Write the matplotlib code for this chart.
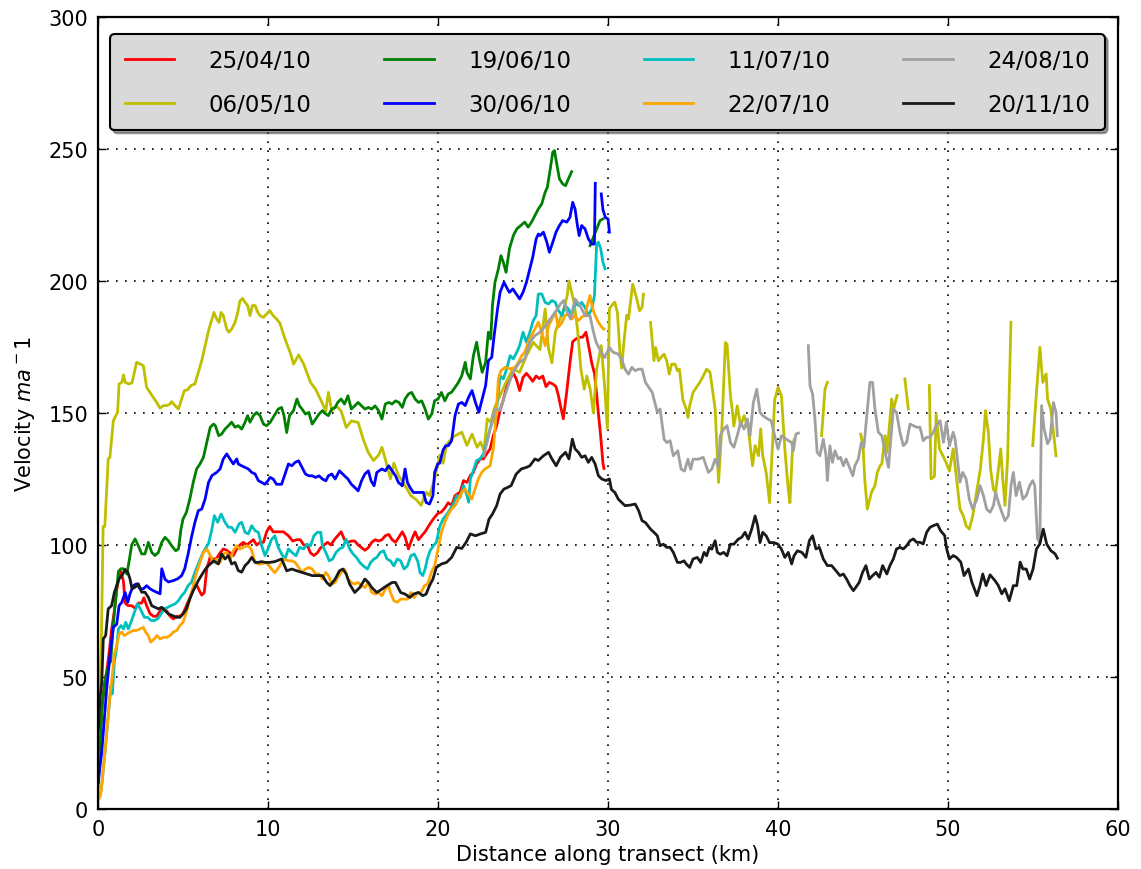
import numpy as np
import matplotlib
matplotlib.use("Agg")
import matplotlib.pyplot as plt

nan = float("nan")
gap = (nan, nan)

# (distance km, velocity) samples, nan = data gap
red_25_04 = [
    (0.02, 15), (0.12, 28), (0.22, 37), (0.37, 47), (0.51, 52), (0.65, 59), (0.8, 68), (0.96, 75),
    (1.1, 83), (1.24, 88), (1.35, 90), (1.5, 86), (1.59, 78), (1.78, 77), (1.98, 77), (2.18, 76),
    (2.37, 78), (2.57, 78), (2.7, 80), (2.86, 77), (3.06, 74), (3.25, 73), (3.45, 73), (3.65, 75),
    (3.84, 76), (4.04, 75), (4.24, 73), (4.43, 72), (4.63, 73), (4.82, 73), (5.0, 74), (5.2, 77),
    (5.4, 80), (5.6, 83), (5.8, 85), (5.94, 83), (6.1, 81), (6.25, 82), (6.4, 91), (6.6, 95.5),
    (6.8, 94.5), (6.98, 95), (7.18, 97), (7.37, 98.5), (7.57, 98), (7.76, 97), (7.96, 96), (8.16, 98.5),
    (8.35, 100), (8.55, 101), (8.75, 100), (8.94, 101), (9.14, 102), (9.33, 100), (9.53, 101), (9.73, 101),
    (9.92, 105), (10.1, 107), (10.3, 105), (10.6, 105), (10.9, 105), (11.2, 103.5), (11.45, 101.5), (11.7, 102),
    (11.9, 102), (12.1, 100), (12.3, 100), (12.5, 97), (12.7, 96), (12.9, 97), (13.1, 99), (13.3, 100),
    (13.5, 101), (13.7, 100), (13.9, 102), (14.1, 103.5), (14.3, 105), (14.5, 102), (14.7, 101), (14.9, 101.5),
    (15.1, 101.5), (15.3, 100), (15.5, 99), (15.7, 98), (15.9, 99), (16.1, 101), (16.3, 102), (16.5, 101.5),
    (16.7, 102), (16.9, 103.5), (17.1, 104), (17.3, 102), (17.5, 101), (17.7, 103), (17.9, 105), (18.06, 103),
    (18.26, 98.5), (18.45, 102), (18.65, 105), (18.85, 102), (19.04, 103.5), (19.24, 105), (19.43, 107), (19.63, 109),
    (19.8, 110.5), (20.0, 112), (20.2, 112.5), (20.4, 114), (20.6, 116), (20.8, 115), (21.0, 118.7), (21.3, 120),
    (21.5, 124.4), (21.7, 123.7), (21.9, 126.3), (22.08, 127.5), (22.27, 130.7), (22.47, 132.6), (22.67, 132.6), (22.86, 134.5),
    (23.06, 136.4), (23.25, 141.4), (23.45, 145.2), (23.65, 151), (23.84, 155), (24.04, 160), (24.24, 163), (24.43, 165),
    (24.6, 163), (24.8, 158.5), (25.0, 163.5), (25.2, 165), (25.4, 163.5), (25.57, 162), (25.77, 164), (25.96, 163),
    (26.16, 164), (26.35, 160), (26.55, 161.6), (26.75, 161), (26.94, 160), (27.08, 156.6), (27.2, 152.8), (27.37, 147.8),
    (27.57, 158), (27.76, 169), (27.92, 177), (28.1, 178), (28.3, 178.7), (28.5, 178.7), (28.7, 180.6), (28.9, 174),
    (29.04, 169), (29.2, 165), (29.3, 159), (29.43, 150), (29.57, 141), (29.7, 131), (29.76, 129),
]

yellow_06_05 = [
    (0.0, 15), (0.1, 45), (0.2, 65), (0.3, 107), (0.4, 107), (0.5, 120), (0.6, 132.6), (0.7, 133.2),
    (0.9, 147), (1.0, 148.4), (1.15, 150.2), (1.24, 161), (1.4, 161.6), (1.5, 164.4), (1.6, 161.6), (1.8, 161),
    (2.0, 161.4), (2.14, 165.4), (2.27, 169.2), (2.47, 168.6), (2.67, 167.9), (2.86, 159.7), (3.06, 157.8), (3.25, 155.9),
    (3.45, 154), (3.65, 151.8), (3.84, 152.8), (4.04, 152.8), (4.24, 153.4), (4.33, 154.3), (4.53, 152.8), (4.73, 151.5),
    (4.92, 155.3), (5.08, 158.5), (5.27, 158.8), (5.47, 160.4), (5.7, 161), (5.9, 165.4), (6.1, 169.8), (6.3, 175.5),
    (6.5, 181.2), (6.7, 185.6), (6.82, 188.1), (6.98, 185.6), (7.12, 184.3), (7.24, 188.1), (7.37, 186.9), (7.57, 181.8),
    (7.7, 180.6), (7.86, 181.8), (8.06, 184.3), (8.22, 188.1), (8.35, 192.5), (8.5, 193.4), (8.65, 191.9), (8.8, 190.7),
    (8.94, 186.9), (9.08, 190.7), (9.24, 190.7), (9.4, 188.1), (9.53, 186.9), (9.73, 186.2), (9.92, 187.5), (10.1, 188.8),
    (10.3, 186.9), (10.5, 185.6), (10.7, 184), (10.85, 181), (11.0, 178), (11.3, 173), (11.5, 168.5), (11.8, 172),
    (12.1, 168.5), (12.3, 165), (12.5, 161.6), (12.8, 159), (13.1, 155), (13.4, 150.8), (13.55, 157.8), (13.75, 150.8),
    (14.0, 152.7), (14.3, 150.8), (14.6, 144.5), (14.9, 147), (15.3, 146.4), (15.6, 140), (15.9, 135), (16.2, 132),
    (16.5, 134), (16.7, 137), (16.9, 132.5), (17.2, 125), (17.4, 131), (17.7, 126), (17.96, 123.7), (18.4, 118.7),
    (18.75, 117), (19.0, 115), (19.3, 120), (19.5, 118.7), (19.8, 125), (20.1, 134), (20.3, 131), (20.5, 138),
    (20.9, 141), (21.4, 142.7), (21.7, 137.7), (22.0, 142), (22.3, 137), (22.5, 139), (22.7, 135.8), (22.9, 147.8),
    (23.1, 146.5), (23.3, 151.5), (23.6, 156), (24.0, 161.6), (24.4, 166.7), (24.8, 165.4), (25.2, 171.7), (25.6, 176.8),
    (26.0, 174), (26.3, 189.4), (26.5, 174.3), (26.7, 169), (26.9, 180.6), (27.1, 184.4), (27.4, 189.4), (27.6, 194.5),
    (27.7, 200), (28.0, 192), (28.2, 182), (28.4, 166.7), (28.6, 159), (28.75, 164), (28.95, 159), (29.14, 150),
    (29.33, 166.6), (29.6, 175.5), (29.8, 160), (29.96, 144), (30.08, 189.4), (30.2, 190.6), (30.4, 192), (30.55, 188),
    (30.7, 173), (30.8, 167), (30.95, 178), (31.1, 187), (31.2, 185.6), (31.45, 198.8), (31.7, 193), (31.85, 188.7),
    (32.0, 190), (32.08, 195), gap,
    (32.5, 184.3), (32.7, 169.8), (32.8, 174.8), (32.96, 169.8), (33.2, 171.7), (33.3, 172.3), (33.45, 169.8), (33.6, 164.7),
    (33.74, 168.5), (33.94, 168.5), (34.08, 166), (34.2, 166.6), (34.4, 155), (34.6, 151.5), (34.7, 148.3), (34.8, 152.7),
    (35.0, 157.8), (35.2, 159.7), (35.4, 161.6), (35.6, 164), (35.8, 166.6), (36.0, 165.4), (36.3, 151.5), (36.5, 123.7),
    (36.7, 145), (36.9, 176.7), (37.0, 176), (37.2, 156.5), (37.3, 151.5), (37.4, 145), (37.6, 152.7), (37.8, 145),
    (38.0, 149), (38.25, 144), (38.5, 130), (38.65, 137.6), (38.85, 133.8), (38.98, 144), (39.1, 133.8), (39.3, 127.5),
    (39.5, 116), (39.7, 141.4), (39.8, 155), (40.0, 159.7), (40.2, 156.5), (40.4, 136.3), (40.6, 121), (40.7, 116),
    (40.86, 138), (40.95, 140), gap,
    (42.56, 141.4), (42.76, 159), (42.9, 161.6), gap,
    (44.86, 142), (45.0, 137.6), (45.1, 125), (45.25, 113.6), (45.4, 117.4), (45.5, 120), (45.7, 122.5), (45.84, 127.5),
    (46.0, 130), (46.1, 130.7), (46.3, 141.4), (46.4, 135), (46.5, 141.4), (46.68, 155.3), (46.8, 151.5), (47.0, 156.6),
    gap, (47.46, 162.9), (47.66, 151.5), gap,
    (48.9, 160.4), (49.0, 125), (49.2, 126), (49.3, 149.6), (49.5, 136.3), (49.7, 133.8), (49.9, 131), (50.08, 128),
    (50.3, 136.4), (50.5, 125), (50.7, 113.7), (50.9, 111), (51.06, 107.3), (51.25, 106), (51.45, 111), (51.7, 121),
    (51.9, 128.8), (52.08, 140), (52.2, 150.9), (52.37, 142.7), (52.5, 128.8), (52.67, 121), (52.8, 120), (52.96, 128.8),
    (53.1, 136.4), (53.2, 126.3), (53.35, 115), (53.5, 132.6), (53.7, 184.4), gap,
    (54.98, 137.6), (55.2, 157.8), (55.4, 174.9), (55.57, 161.6), (55.77, 164.8), (55.85, 155.3), (56.04, 151.5), (56.2, 142.7),
    (56.35, 133.8),
]

green_19_06 = [
    (0.0, 8), (0.1, 22), (0.25, 40), (0.45, 50), (0.6, 54), (0.75, 56), (0.9, 70), (1.05, 80),
    (1.2, 90), (1.35, 91), (1.5, 91), (1.7, 89), (1.85, 94.7), (1.98, 100), (2.18, 102.3), (2.37, 99.7),
    (2.57, 96.6), (2.76, 96.6), (2.96, 101), (3.16, 97.2), (3.35, 96), (3.55, 97.2), (3.75, 101), (3.94, 102.9),
    (4.14, 101.6), (4.33, 99.7), (4.57, 97.8), (4.73, 98.5), (4.88, 106), (5.0, 109.8), (5.2, 112.4), (5.4, 117.4),
    (5.6, 123.7), (5.8, 128.8), (6.0, 130.7), (6.2, 133.2), (6.4, 138.9), (6.6, 144.6), (6.8, 145.8), (6.9, 145.2),
    (7.1, 141.4), (7.27, 142), (7.47, 143.9), (7.67, 145.2), (7.86, 146.5), (8.06, 144.6), (8.25, 145.2), (8.45, 143.9),
    (8.65, 146.5), (8.8, 149), (8.94, 146.5), (9.14, 149), (9.33, 150.2), (9.53, 149), (9.73, 145.8), (9.92, 145.2),
    (10.12, 146.4), (10.3, 148.3), (10.6, 151.5), (10.8, 152.1), (10.94, 149), (11.1, 142.6), (11.26, 149), (11.5, 150.9),
    (11.7, 155.3), (11.85, 152.7), (12.0, 151.5), (12.2, 149.6), (12.4, 150.2), (12.6, 145.8), (12.8, 147.7), (13.0, 149.6),
    (13.2, 150.9), (13.4, 149.6), (13.55, 149), (13.75, 151.5), (13.95, 152.1), (14.1, 154), (14.3, 155.3), (14.5, 153.4),
    (14.7, 156.5), (14.9, 151.5), (15.1, 152.7), (15.3, 154), (15.5, 152.7), (15.7, 151.5), (15.9, 152.1), (16.1, 151.5),
    (16.3, 152.7), (16.5, 150.9), (16.7, 147.7), (16.9, 153.4), (17.1, 154), (17.3, 153.4), (17.5, 154.6), (17.7, 154),
    (17.9, 152.1), (18.06, 155.3), (18.26, 157.2), (18.45, 157.8), (18.65, 155.3), (18.85, 154), (19.04, 154.6), (19.24, 151.5),
    (19.43, 147.7), (19.63, 149.6), (19.8, 154.6), (20.0, 155.3), (20.2, 157.8), (20.4, 154.6), (20.6, 157.2), (20.8, 157.9),
    (21.0, 159.7), (21.2, 161.6), (21.4, 164.2), (21.6, 169.2), (21.7, 165.4), (21.9, 162.9), (22.08, 171.7), (22.27, 176.8),
    (22.43, 170.5), (22.6, 165.4), (22.8, 169.2), (22.96, 180.6), (23.1, 178), (23.2, 190.7), (23.35, 199.5), (23.55, 204.6),
    (23.7, 209.6), (23.84, 207.1), (24.0, 203.3), (24.2, 212.2), (24.43, 217.2), (24.63, 219.7), (24.86, 221), (25.1, 222.3),
    (25.3, 220.4), (25.5, 222.3), (25.7, 224.8), (25.9, 227.3), (26.1, 229.2), (26.3, 233.6), (26.43, 235.5), (26.6, 242.4),
    (26.75, 248.8), (26.85, 249.4), (27.0, 243.7), (27.14, 238.7), (27.33, 236.8), (27.5, 236.1), (27.67, 238.7), (27.86, 241.4),
    gap, (28.94, 213.4), (29.1, 216), (29.33, 219.7), (29.53, 222.9), (29.7, 223.5),
]

blue_30_06 = [
    (0.02, 10), (0.12, 16.4), (0.22, 21.5), (0.37, 34), (0.51, 45.5), (0.7, 58), (0.9, 68.8), (1.1, 70),
    (1.24, 77), (1.4, 78.3), (1.6, 82), (1.75, 78.3), (1.88, 81.5), (2.08, 84.6), (2.27, 85.3), (2.47, 83.4),
    (2.67, 83.4), (2.86, 84.6), (3.06, 83.4), (3.25, 82.7), (3.45, 82.1), (3.65, 81.5), (3.75, 91), (3.94, 87),
    (4.14, 86), (4.43, 86.5), (4.69, 87.2), (4.92, 88.4), (5.1, 91), (5.3, 96.6), (5.5, 103), (5.7, 108.6),
    (5.9, 113), (6.1, 113.6), (6.3, 117.4), (6.5, 123.7), (6.7, 126.3), (6.98, 127.5), (7.18, 128.8), (7.37, 132.6),
    (7.57, 134.5), (7.76, 132.6), (7.96, 130.7), (8.16, 132.6), (8.25, 130.7), (8.45, 130), (8.65, 129.4), (8.84, 128.8),
    (9.04, 127.5), (9.24, 126.9), (9.43, 124.4), (9.63, 123.7), (9.82, 123), (10.0, 124.4), (10.12, 125.6), (10.3, 125),
    (10.5, 123), (10.8, 123), (11.0, 126.9), (11.2, 130.7), (11.4, 130), (11.6, 131.3), (11.8, 131.9), (12.0, 129.4),
    (12.2, 126.9), (12.4, 126.2), (12.6, 126.2), (12.8, 125.6), (13.0, 126.2), (13.2, 125), (13.4, 124.3), (13.55, 126.2),
    (13.75, 126.9), (13.95, 125), (14.2, 128.1), (14.5, 126.2), (14.7, 125), (14.9, 123), (15.1, 121.8), (15.3, 120.5),
    (15.5, 124.3), (15.7, 126.9), (15.9, 128.1), (16.06, 124.3), (16.24, 122.4), (16.4, 127.5), (16.7, 128.8), (16.9, 128.1),
    (17.1, 130), (17.3, 128.1), (17.5, 126.2), (17.67, 123.7), (17.9, 122.4), (18.06, 128.8), (18.2, 123.7), (18.35, 121.8),
    (18.55, 119.9), (18.85, 119.9), (19.14, 119.9), (19.3, 116.1), (19.5, 115.5), (19.7, 118.7), (19.8, 127.5), (19.98, 130.7),
    (20.1, 131), (20.3, 136), (20.45, 137.6), (20.6, 137.6), (20.8, 139.5), (21.0, 149), (21.2, 153.4), (21.4, 154),
    (21.6, 152.8), (21.8, 156), (22.0, 158.5), (22.2, 154), (22.4, 150.3), (22.6, 155.3), (22.8, 160.4), (22.96, 169.8),
    (23.16, 171.1), (23.3, 179.3), (23.5, 189.4), (23.65, 195.7), (23.88, 199.5), (24.08, 197), (24.2, 195.7), (24.4, 197),
    (24.6, 195.1), (24.8, 193.2), (25.0, 195.7), (25.2, 199.5), (25.4, 204.6), (25.57, 209), (25.77, 215.9), (25.9, 217.8),
    (26.0, 217.2), (26.2, 218.5), (26.4, 214.7), (26.55, 210.9), (26.75, 214.7), (26.94, 218.5), (27.14, 221), (27.33, 222.9),
    (27.57, 222.3), (27.76, 224.1), (27.92, 229.8), (28.06, 227.3), (28.2, 221), (28.3, 217.2), (28.45, 221), (28.65, 219.7),
    (28.84, 216), (29.04, 214), (29.2, 214), (29.25, 237), gap,
    (29.6, 233), (29.7, 227), (29.85, 224), (30.0, 223.5), (30.08, 218.5),
]

cyan_11_07 = [
    (0.12, 5), (0.22, 9), (0.31, 15), (0.41, 21.5), (0.6, 35.4), (0.76, 46.7), (0.84, 43.6), (0.96, 55.6),
    (1.1, 61.3), (1.2, 68.2), (1.35, 69.5), (1.5, 68.2), (1.63, 70.7), (1.78, 68.2), (1.94, 70.7), (2.14, 74.5),
    (2.33, 77.7), (2.53, 75.2), (2.73, 72.6), (2.92, 72.6), (3.12, 71.4), (3.31, 71.4), (3.51, 72), (3.71, 73.9),
    (3.9, 75.8), (4.1, 76.4), (4.3, 77), (4.53, 77.7), (4.73, 78.9), (4.92, 80.8), (5.1, 82.1), (5.3, 84.6),
    (5.5, 85.9), (5.7, 89.7), (5.9, 92.8), (6.1, 96), (6.3, 98.5), (6.5, 100.5), (6.7, 106), (6.84, 111.1),
    (7.04, 108.6), (7.24, 111.7), (7.47, 108.6), (7.67, 106.7), (7.86, 106.7), (8.06, 104.8), (8.3, 108), (8.45, 108.6),
    (8.65, 104.8), (8.84, 104.2), (9.04, 107.3), (9.24, 105.4), (9.43, 104.8), (9.63, 99.7), (9.82, 96), (10.0, 98.5),
    (10.2, 102), (10.4, 103.5), (10.6, 99.1), (10.8, 96.6), (11.0, 94.7), (11.2, 98.5), (11.4, 97.2), (11.65, 95.9),
    (11.85, 99.1), (12.1, 98.5), (12.3, 100.3), (12.5, 99.7), (12.7, 103.5), (12.9, 104.8), (13.1, 104.8), (13.2, 99.7),
    (13.4, 97.2), (13.6, 94), (13.8, 94.7), (14.0, 97.2), (14.2, 98.5), (14.4, 99.1), (14.6, 102.2), (14.8, 98.5),
    (15.0, 96.6), (15.2, 95.3), (15.4, 93.4), (15.6, 92.1), (15.85, 90.9), (16.04, 93.4), (16.24, 94.7), (16.4, 95.3),
    (16.6, 97.2), (16.8, 97.8), (17.0, 94.7), (17.2, 94), (17.4, 92.1), (17.6, 94.7), (17.8, 94), (18.0, 90.9),
    (18.2, 92.1), (18.4, 95.9), (18.6, 96.6), (18.8, 94), (18.94, 89.6), (19.1, 88.4), (19.24, 90.9), (19.37, 94.7),
    (19.53, 97.8), (19.73, 99.7), (19.9, 101), (20.1, 107), (20.3, 109.8), (20.6, 112.4), (20.9, 115.5), (21.1, 118.7),
    (21.3, 118), (21.5, 122.5), (21.7, 118.7), (21.8, 116.2), (21.9, 125), (22.08, 128.2), (22.27, 132), (22.47, 132.6),
    (22.67, 134.5), (22.86, 138.9), (23.06, 144), (23.25, 147.7), (23.45, 151.5), (23.65, 164.2), (23.84, 162.9), (24.04, 166.7),
    (24.24, 171.7), (24.43, 170.5), (24.63, 173), (24.8, 175.5), (25.0, 180.6), (25.2, 176.8), (25.4, 180.6), (25.6, 185),
    (25.77, 186.9), (25.9, 195.1), (26.1, 195.1), (26.3, 191.9), (26.5, 191.3), (26.7, 192.6), (26.9, 191.9), (27.08, 188.8),
    (27.3, 186.9), (27.47, 190.7), (27.67, 189.4), (27.86, 186.9), (28.06, 191.9), (28.25, 190.7), (28.45, 191.9), (28.65, 190),
    (28.84, 186.9), (29.04, 189.4), (29.2, 194.5), (29.33, 214), (29.43, 214.7), (29.57, 212.2), (29.7, 207.1), (29.82, 204.6),
]

orange_22_07 = [
    (0.06, 3.8), (0.18, 6.3), (0.31, 15.2), (0.41, 21.5), (0.51, 29.1), (0.6, 35.4), (0.7, 43), (0.84, 50.5),
    (0.96, 58.7), (1.1, 61.9), (1.24, 66.3), (1.4, 67), (1.55, 65.7), (1.7, 66.3), (1.88, 67), (2.08, 67.6),
    (2.27, 67.6), (2.47, 68.2), (2.67, 68.8), (2.8, 67), (2.96, 65.7), (3.1, 63.2), (3.3, 64.4), (3.47, 65.7),
    (3.65, 64.4), (3.84, 65), (4.04, 65), (4.24, 65.7), (4.43, 67), (4.63, 67.6), (4.82, 69.5), (5.0, 70.7),
    (5.2, 74.5), (5.4, 79.6), (5.6, 84.6), (5.8, 89.7), (6.0, 93.5), (6.2, 97.2), (6.4, 98.5), (6.6, 96),
    (6.8, 93.4), (6.98, 94.7), (7.18, 93.4), (7.37, 96.6), (7.57, 97.2), (7.76, 94.1), (7.96, 97.9), (8.16, 99.7),
    (8.35, 98.5), (8.55, 99.1), (8.75, 99.7), (8.94, 99.1), (9.04, 97.9), (9.24, 93.4), (9.43, 92.8), (9.63, 92.8),
    (9.82, 93.4), (10.0, 92.8), (10.2, 90.9), (10.4, 89.5), (10.7, 92.1), (10.9, 94.7), (11.2, 94), (11.4, 94),
    (11.6, 93.4), (11.8, 91.5), (12.0, 89.6), (12.2, 90.9), (12.4, 91.5), (12.6, 90.9), (12.8, 89), (13.0, 89),
    (13.2, 87.1), (13.4, 89.6), (13.55, 88.4), (13.75, 85.2), (13.95, 85.8), (14.1, 87.7), (14.3, 89.6), (14.5, 90.9),
    (14.7, 87.1), (14.9, 85.8), (15.1, 85.2), (15.3, 85.8), (15.5, 84.6), (15.7, 83.9), (15.9, 85.8), (16.1, 82),
    (16.3, 81.4), (16.5, 82), (16.7, 80.8), (16.9, 83.3), (17.1, 84.6), (17.2, 82), (17.4, 78.9), (17.6, 78.3),
    (17.8, 79.5), (18.0, 79.5), (18.2, 79.5), (18.4, 82), (18.6, 80.1), (18.8, 82), (19.0, 82), (19.2, 84.6),
    (19.4, 85.2), (19.6, 89.6), (19.8, 92.1), (20.0, 98.5), (20.2, 104.8), (20.4, 108.6), (20.6, 111.7), (20.8, 113.6),
    (21.0, 114.9), (21.2, 117.4), (21.4, 120), (21.6, 121.2), (21.78, 119.3), (21.98, 117.4), (22.18, 121.2), (22.37, 125),
    (22.57, 127.5), (22.76, 128.8), (23.06, 130), (23.25, 136.4), (23.35, 144), (23.45, 152.8), (23.55, 162.9), (23.7, 166),
    (23.94, 167.3), (24.24, 166.7), (24.53, 167.3), (24.73, 169.2), (24.92, 171.7), (25.1, 173), (25.3, 176.8), (25.5, 179.3),
    (25.7, 181.8), (25.9, 184.4), (26.1, 180.6), (26.3, 175.5), (26.5, 183), (26.7, 185.6), (26.9, 188.2), (27.08, 182.5),
    (27.3, 184.4), (27.47, 186.9), (27.67, 187.5), (27.86, 185.6), (28.06, 186.9), (28.25, 185), (28.45, 186.3), (28.65, 186.9),
    (28.78, 190.7), (28.94, 194.5), (29.1, 189.4), (29.24, 186.9), (29.43, 184.4), (29.63, 182.5), (29.76, 181.8),
]

gray_24_08 = [
    (22.7, 133.8), (23.06, 144), (23.35, 151.5), (23.65, 151), (24.0, 158), (24.4, 165.4), (24.8, 169.2), (25.1, 170.5),
    (25.4, 176.8), (25.7, 179.3), (26.0, 180.6), (26.3, 183), (26.6, 185.6), (26.9, 188.2), (27.2, 191.3), (27.4, 192.6),
    (27.6, 188.2), (27.8, 185.6), (28.06, 193.2), (28.35, 190.7), (28.65, 186.9), (28.94, 186.8), (29.1, 181.8), (29.3, 176.8),
    (29.6, 173), (29.8, 171), (30.08, 174.8), (30.3, 173), (30.6, 172.3), (30.8, 170.4), (31.0, 166.6), (31.2, 164.7),
    (31.4, 167.3), (31.6, 166), (31.8, 166.6), (32.0, 166.6), (32.2, 161.6), (32.4, 159.7), (32.6, 157.8), (32.8, 152.7),
    (32.9, 150.2), (33.06, 151.5), (33.3, 140), (33.45, 138.8), (33.65, 139.5), (33.84, 133.8), (34.1, 135.7), (34.3, 128.7),
    (34.5, 128), (34.7, 132.5), (34.86, 128.7), (35.0, 132.5), (35.3, 132.5), (35.6, 133.2), (35.9, 127.5), (36.1, 128.7),
    (36.3, 132.5), (36.5, 129.4), (36.6, 141.4), (36.8, 143.9), (37.0, 145.2), (37.2, 138.8), (37.4, 137), (37.6, 141.4),
    (37.8, 146.4), (38.0, 143.9), (38.2, 147.7), (38.35, 141.4), (38.55, 154), (38.75, 159), (38.94, 150.2), (39.1, 149),
    (39.4, 147.7), (39.6, 147), (39.8, 141.4), (40.0, 136.3), (40.2, 141.4), (40.5, 140), (40.8, 138.8), (40.9, 135.7),
    (41.05, 142), (41.2, 142.4), gap,
    (41.78, 175.5), (41.88, 160.3), (42.03, 157.2), (42.17, 147.7), (42.3, 135.1), (42.46, 133.8), (42.66, 140.1), (42.82, 133.8),
    (42.9, 124.4), (43.05, 137.6), (43.2, 131.3), (43.35, 135.7), (43.54, 132.6), (43.68, 133.2), (43.84, 130), (44.0, 132.6),
    (44.2, 129.4), (44.4, 126.2), (44.52, 130), (44.72, 132.6), (44.9, 138.9), (45.05, 137), (45.2, 147.7), (45.4, 161.6),
    (45.56, 161.6), (45.7, 151.5), (45.9, 142.7), (46.1, 141.4), (46.3, 135.1), (46.5, 129.4), (46.6, 137.6), (46.78, 151.5),
    (46.97, 150.2), (47.17, 142.7), (47.37, 137.6), (47.56, 138.9), (47.76, 145.8), (47.96, 145.2), (48.15, 144.6), (48.35, 144.6),
    (48.54, 139.5), (48.74, 140.8), (48.94, 140.8), (49.13, 142.7), (49.3, 145.2), (49.53, 147.1), (49.73, 138.9), (49.9, 146.5),
    (50.08, 137.6), (50.3, 142.7), (50.41, 140.2), (50.55, 132.6), (50.7, 123.8), (50.86, 127.5), (51.06, 125), (51.25, 117.4),
    (51.45, 113.6), (51.7, 117.4), (51.88, 122.5), (52.08, 118.7), (52.27, 113.6), (52.47, 112.4), (52.67, 114.9), (52.8, 120),
    (52.96, 116.2), (53.16, 112.4), (53.35, 109.2), (53.55, 111.1), (53.7, 122.5), (53.84, 127.5), (54.0, 118.7), (54.2, 123.8),
    (54.4, 117.4), (54.6, 118.7), (54.8, 122.5), (54.98, 124.4), (55.1, 122.5), (55.26, 102.3), (55.4, 101), (55.5, 152.8),
    (55.65, 144), (55.85, 138.3), (56.0, 140.2), (56.2, 154), (56.35, 150.3), (56.43, 141.4),
]

black_20_11 = [
    (0.02, 30), (0.12, 42), (0.22, 48), (0.31, 64.4), (0.45, 65.7), (0.6, 75.8), (0.8, 77), (0.96, 82),
    (1.1, 84.6), (1.24, 87.2), (1.4, 88.4), (1.6, 90.7), (1.75, 89.7), (1.88, 87.2), (2.0, 83.4), (2.18, 84),
    (2.37, 85.3), (2.57, 82.1), (2.76, 82.1), (2.96, 80.2), (3.16, 77), (3.35, 76.4), (3.55, 75.8), (3.75, 76.4),
    (3.94, 75.2), (4.14, 73.9), (4.37, 73.3), (4.6, 72.6), (4.82, 72.6), (5.0, 73.9), (5.2, 75.8), (5.4, 79.6),
    (5.6, 82.7), (5.9, 86.5), (6.2, 89.7), (6.4, 91.6), (6.6, 92.8), (6.8, 94), (7.08, 92.8), (7.27, 96.6),
    (7.47, 94.7), (7.67, 96), (7.86, 92.8), (8.06, 93.4), (8.25, 90.3), (8.45, 89.7), (8.65, 92.2), (8.84, 93.4),
    (9.04, 95.3), (9.24, 93.4), (9.43, 93.4), (9.63, 93.7), (9.82, 93.4), (10.1, 93.4), (10.4, 93.7), (10.8, 94.7),
    (11.1, 90.2), (11.4, 90.9), (11.7, 90.2), (12.0, 89.6), (12.3, 89), (12.6, 88.4), (12.9, 88.4), (13.2, 88.4),
    (13.45, 85.8), (13.65, 84.6), (13.95, 87.1), (14.2, 90.2), (14.4, 90.9), (14.6, 89), (14.8, 85.2), (15.1, 82),
    (15.4, 83.9), (15.7, 87.1), (15.9, 85.8), (16.1, 83.9), (16.4, 82), (16.7, 83.3), (17.0, 84.6), (17.3, 85.8),
    (17.5, 85.8), (17.8, 82), (18.06, 81.4), (18.35, 80.1), (18.55, 81.4), (18.85, 82), (19.1, 80.8), (19.3, 81.4),
    (19.5, 84.6), (19.7, 87.1), (19.9, 91.5), (20.2, 92.8), (20.5, 93.4), (20.8, 95.3), (21.1, 99.1), (21.4, 98.7),
    (21.65, 101), (21.9, 104.2), (22.2, 103.5), (22.5, 104.2), (22.8, 104.8), (23.0, 109.8), (23.2, 111.7), (23.45, 114.9),
    (23.65, 119.3), (23.88, 121.2), (24.1, 121.8), (24.3, 122.5), (24.6, 126.9), (24.9, 128.8), (25.2, 129.4), (25.4, 130),
    (25.7, 132.6), (25.9, 132), (26.2, 133.8), (26.5, 135.1), (26.7, 132.6), (26.95, 130), (27.2, 133.2), (27.5, 135.1),
    (27.7, 132.6), (27.9, 140.1), (28.06, 136.4), (28.26, 135.1), (28.45, 133.2), (28.65, 133.8), (28.84, 131.3), (29.04, 133.2),
    (29.24, 130.7), (29.43, 126.3), (29.63, 125), (29.88, 124.4), (30.08, 125), (30.2, 121), (30.4, 119.9), (30.6, 117.4),
    (30.8, 116.1), (31.0, 114.9), (31.3, 115.1), (31.6, 115.5), (31.8, 113), (32.0, 109.2), (32.2, 108.5), (32.5, 106),
    (32.7, 104.8), (32.9, 103.5), (33.06, 99.7), (33.25, 100.3), (33.45, 99.1), (33.65, 99.1), (33.84, 97.2), (34.08, 93.4),
    (34.27, 93.4), (34.47, 94), (34.6, 92.8), (34.8, 91.5), (35.0, 94.7), (35.25, 95.3), (35.45, 93.4), (35.65, 97.2),
    (35.8, 95.9), (35.96, 99.1), (36.1, 98.4), (36.3, 101.6), (36.43, 97.2), (36.6, 96.5), (36.8, 97.2), (37.0, 95.9),
    (37.2, 100.3), (37.4, 100.3), (37.66, 102.2), (37.86, 102.9), (38.06, 104.8), (38.25, 102.2), (38.45, 106), (38.65, 111),
    (38.8, 107.3), (38.94, 100.9), (39.1, 104.8), (39.3, 103.5), (39.5, 100.9), (39.76, 100.9), (40.0, 100.3), (40.2, 98.4),
    (40.4, 95.3), (40.6, 97.2), (40.8, 92.8), (40.94, 95.9), (41.14, 97.8), (41.4, 97.2), (41.64, 95.3), (41.84, 101.6),
    (42.03, 103.5), (42.23, 98.5), (42.43, 99.1), (42.66, 94.7), (42.9, 92.2), (43.15, 92.2), (43.4, 90.3), (43.64, 88.4),
    (43.84, 89), (44.03, 87.1), (44.23, 84.6), (44.43, 82.7), (44.58, 84), (44.78, 85.9), (44.97, 89.6), (45.17, 92.2),
    (45.37, 87.1), (45.56, 88.4), (45.76, 89.6), (45.96, 87.8), (46.15, 92.2), (46.4, 89), (46.58, 92.2), (46.78, 94.7),
    (46.97, 98.5), (47.17, 99.1), (47.37, 98.5), (47.56, 99.7), (47.76, 101.6), (47.96, 102.3), (48.15, 101), (48.35, 101),
    (48.54, 100.4), (48.74, 104.8), (48.94, 106.7), (49.13, 107.3), (49.37, 107.9), (49.56, 105.4), (49.8, 103.6), (49.92, 98.5),
    (50.08, 94.7), (50.3, 96), (50.5, 95.3), (50.75, 93.5), (50.94, 88.4), (51.2, 90.9), (51.4, 85.9), (51.7, 80.8),
    (51.88, 84.6), (52.04, 89), (52.24, 84.6), (52.47, 88.7), (52.76, 86.5), (52.96, 84.6), (53.16, 81.5), (53.35, 83.4),
    (53.6, 78.9), (53.84, 84.6), (54.04, 84.6), (54.24, 93.5), (54.4, 90.9), (54.6, 90.9), (54.8, 87.1), (55.0, 90.9),
    (55.2, 98.5), (55.4, 100.4), (55.6, 106), (55.8, 100.4), (56.04, 97.9), (56.3, 96.6), (56.43, 95),
]

series = [red_25_04, yellow_06_05, green_19_06, blue_30_06,
          cyan_11_07, orange_22_07, gray_24_08, black_20_11]
labels = ["25/04/10", "06/05/10", "19/06/10", "30/06/10",
          "11/07/10", "22/07/10", "24/08/10", "20/11/10"]
colors = ["#ff0000", "#bfbf00", "#008000", "#0000ff",
          "#00bfbf", "#ffa500", "#a0a0a0", "#1a1a1a"]

fig = plt.figure(figsize=(11.41, 8.70), dpi=100)
ax = fig.add_axes([0.0859, 0.069, 0.894, 0.9103])

for pts, label, color in zip(series, labels, colors):
    x, y = np.array(pts, dtype=float).T
    ax.plot(x, y, color=color, lw=2.0, label=label)

ax.set_xlim(0, 60)
ax.set_ylim(0, 300)
ax.set_xticks(np.arange(0, 61, 10))
ax.set_yticks(np.arange(0, 301, 50))
ax.grid(True, color="k", linestyle=(0, (1, 4.4)), linewidth=1.2)
ax.tick_params(direction="in", top=True, right=True, length=6, width=1,
               labelsize=15, pad=7)
for sp in ax.spines.values():
    sp.set_linewidth(1.6)

ax.set_xlabel("Distance along transect (km)", fontsize=15, labelpad=4)
ax.set_ylabel(r"Velocity $ma^- 1$", fontsize=15, labelpad=8)

leg = ax.legend(loc="upper left", bbox_to_anchor=(0.012, 0.5, 0.975, 0.4785),
                mode="expand", ncol=4, fontsize=16.5, handlelength=2.15,
                handletextpad=1.5, labelspacing=0.9, borderpad=0.65,
                borderaxespad=0, fancybox=True, shadow=True, framealpha=1,
                facecolor="#d9d9d9", edgecolor="k")
leg.get_frame().set_linewidth(1.5)

fig.savefig("out.png", dpi=100)
